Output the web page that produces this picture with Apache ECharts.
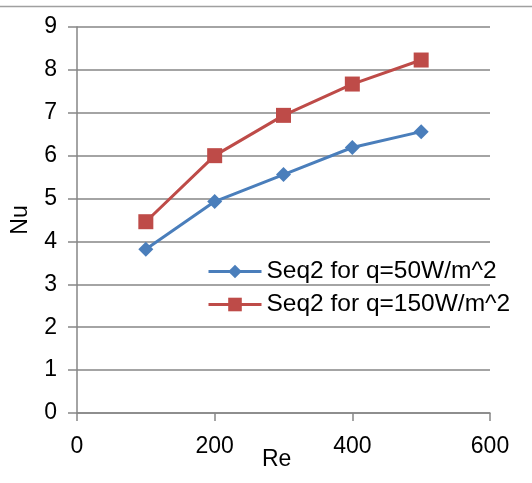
<!DOCTYPE html>
<html>
<head>
<meta charset="utf-8">
<script src="https://cdn.jsdelivr.net/npm/echarts@6/dist/echarts.min.js"></script>
<style>html,body{margin:0;padding:0;background:#fff}#c{width:532px;height:483px}</style>
</head>
<body>
<div id="c"></div>
<script>
var reValues = [100, 200, 300, 400, 500];
var nuQ50 = [3.82, 4.93, 5.56, 6.19, 6.56];
var nuQ150 = [4.46, 6.00, 6.94, 7.67, 8.23];
var seriesNames = ['Seq2 for q=50W/m^2', 'Seq2 for q=150W/m^2'];
var xName = 'Re';
var yName = 'Nu';

function pairs(xs, ys) { return xs.map(function (x, i) { return [x, ys[i]]; }); }

var font = 'Liberation Sans';
var axisGray = '#868686';
var chart = echarts.init(document.getElementById('c'), null, { renderer: 'canvas' });
chart.setOption({
  animation: false,
  backgroundColor: '#fff',
  grid: { left: 77, right: 42, top: 27, bottom: 70, containLabel: false },
  graphic: [
    { type: 'line', shape: { x1: 0, y1: 6.5, x2: 532, y2: 6.5 }, style: { stroke: '#a0a0a0', lineWidth: 1.5 } },
    { type: 'text', left: 262, top: 448, style: { text: xName, font: '23px "Liberation Sans"', fill: '#000' } }
  ],
  legend: {
    orient: 'vertical',
    left: 207,
    top: 259,
    itemWidth: 53,
    itemHeight: 17,
    itemGap: 8,
    padding: 0,
    lineStyle: { width: 3 },
    textStyle: { fontFamily: font, fontSize: 24.5, color: '#000', padding: [0, 0, 0, 0] },
    data: seriesNames
  },
  xAxis: {
    type: 'value', min: 0, max: 600, interval: 200,
    axisLine: { show: true, lineStyle: { color: axisGray, width: 1.5 } },
    axisTick: { show: true, length: 8, lineStyle: { color: axisGray, width: 1.5 } },
    axisLabel: { fontFamily: font, fontSize: 23, color: '#000', margin: 22 },
    splitLine: { show: false }
  },
  yAxis: {
    type: 'value', min: 0, max: 9, interval: 1,
    name: yName, nameLocation: 'middle', nameGap: 45, nameRotate: 90,
    nameTextStyle: { fontFamily: font, fontSize: 23, color: '#000' },
    axisLine: { show: true, lineStyle: { color: axisGray, width: 1.5 } },
    axisTick: { show: true, length: 9, lineStyle: { color: axisGray, width: 1.5 } },
    axisLabel: { fontFamily: font, fontSize: 23, color: '#000', margin: 20 },
    splitLine: { show: true, lineStyle: { color: axisGray, width: 1.5 } }
  },
  series: [
    {
      name: seriesNames[0], type: 'line', data: pairs(reValues, nuQ50),
      symbol: 'diamond', symbolSize: 15,
      lineStyle: { color: '#4A7EBB', width: 3 },
      itemStyle: { color: '#4A7EBB' }
    },
    {
      name: seriesNames[1], type: 'line', data: pairs(reValues, nuQ150),
      symbol: 'rect', symbolSize: 15,
      lineStyle: { color: '#BE4B48', width: 3 },
      itemStyle: { color: '#BE4B48' }
    }
  ]
});
</script>
</body>
</html>
